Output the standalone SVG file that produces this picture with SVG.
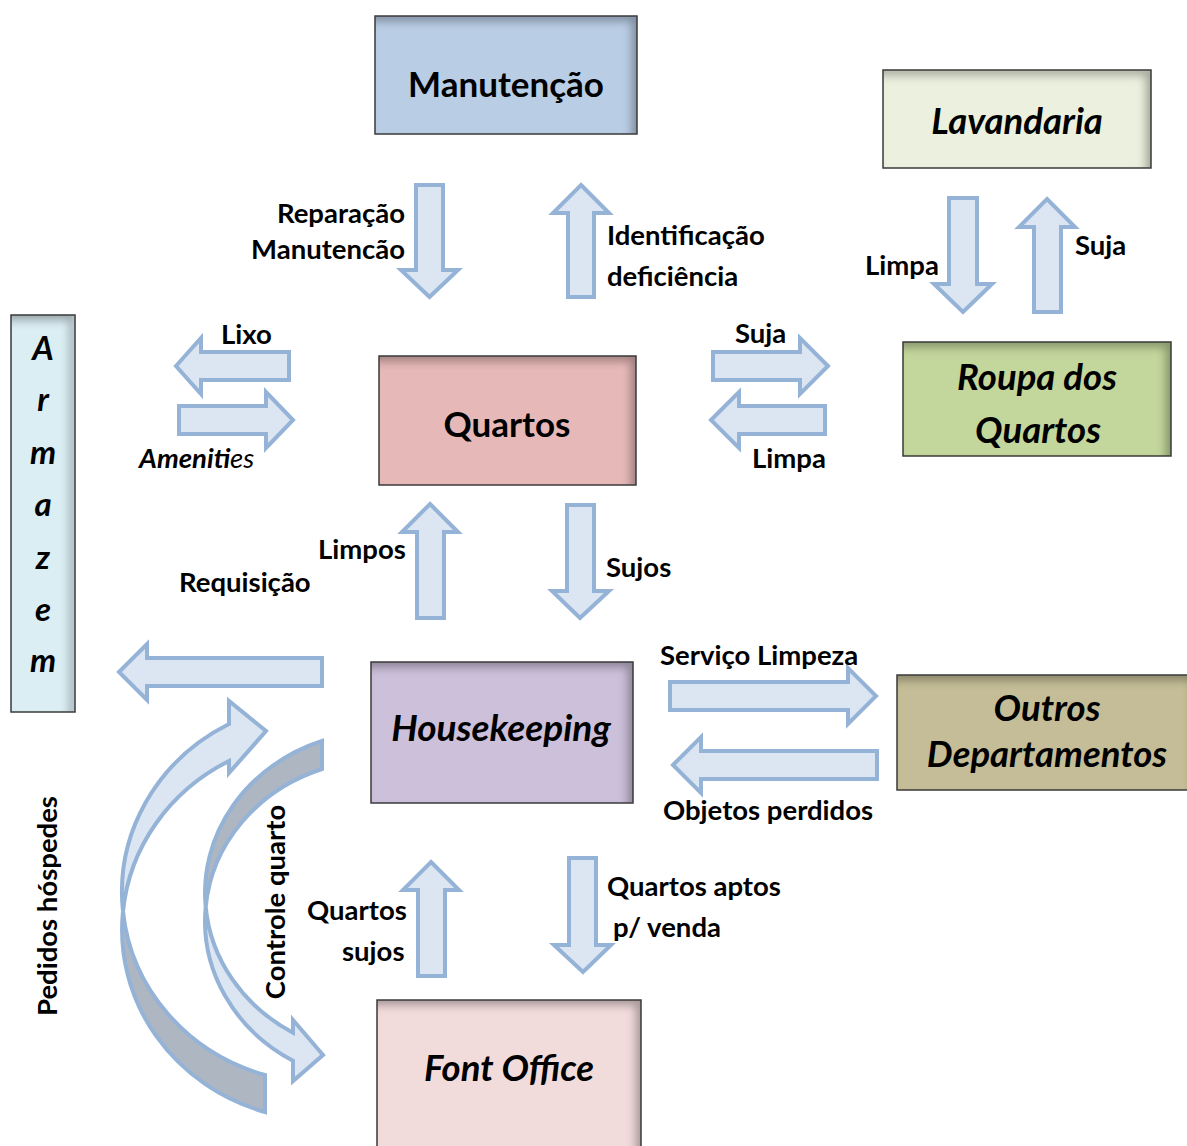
<svg xmlns="http://www.w3.org/2000/svg" width="1187" height="1146" viewBox="0 0 1187 1146">
  <defs>
    <!-- soft inner shadow along the top and right edges of each box -->
    <filter id="inset" x="-10%" y="-10%" width="120%" height="120%">
      <feFlood flood-color="#000" flood-opacity="0.55" result="flood"/>
      <feComposite in="flood" in2="SourceGraphic" operator="out" result="outside"/>
      <feOffset in="outside" dx="-6" dy="6" result="shifted"/>
      <feGaussianBlur in="shifted" stdDeviation="4" result="blurred"/>
      <feComposite in="blurred" in2="SourceGraphic" operator="in" result="inner"/>
      <feMerge>
        <feMergeNode in="SourceGraphic"/>
        <feMergeNode in="inner"/>
      </feMerge>
    </filter>
  </defs>
  <style>
    .box { stroke: none; filter: url(#inset); }
    .edge { fill: none; stroke: #3a3a3a; stroke-width: 1.5; }
    .title { font-family: Lato, "Open Sans", sans-serif; font-weight: bold; fill: #000; text-anchor: middle; }
    .it { font-style: italic; }
    .lbl { font-family: Lato, "Open Sans", sans-serif; font-weight: bold; font-size: 27.5px; fill: #000; }
    .thin { font-weight: normal; }
    .arrow { fill: #dce6f2; stroke: #95b3d7; stroke-width: 4; stroke-linejoin: miter; }
    .back { fill: #adb6c1; stroke: #95b3d7; stroke-width: 4; }
  </style>
  <rect width="1187" height="1146" fill="#fff"/>

  <!-- connectors -->
  <g id="connectors">
    <polygon class="arrow" points="416,185 443,185 443,270 458,270 429.5,297 401,270 416,270"/>
    <polygon class="arrow" points="581,185 609,213 594,213 594,297 568,297 568,213 553,213"/>
    <polygon class="arrow" points="949,198 977,198 977,284 992,284 963,312 934,284 949,284"/>
    <polygon class="arrow" points="1047,199 1075,227 1061,227 1061,312 1034,312 1034,227 1019,227"/>
    <polygon class="arrow" points="176,366 201,338 201,352 289,352 289,380 201,380 201,394"/>
    <polygon class="arrow" points="179,406 266,406 266,392 293,420 266,448 266,434 179,434"/>
    <polygon class="arrow" points="713,352 800,352 800,338 828,366 800,394 800,380 713,380"/>
    <polygon class="arrow" points="711,420 739,392 739,406 825,406 825,434 739,434 739,448"/>
    <polygon class="arrow" points="430,504 458,532 444,532 444,618 417,618 417,532 402,532"/>
    <polygon class="arrow" points="567,505 594,505 594,591 609,591 580,618 552,591 567,591"/>
    <polygon class="arrow" points="119,672 147,644 147,658 322,658 322,686 147,686 147,700"/>
    <polygon class="arrow" points="670,682 848,682 848,668 876,696 848,724 848,710 670,710"/>
    <polygon class="arrow" points="673,765 701,737 701,751 877,751 877,779 701,779 701,793"/>
    <polygon class="arrow" points="431,862 459,890 445,890 445,976 418,976 418,890 403,890"/>
    <polygon class="arrow" points="569,858 596,858 596,945 611,945 583,972 554,945 569,945"/>

    <!-- curved arrow: guest requests -->
    <path class="back" d="M 123 911.5 A 200 190 0 0 0 265 1112 L 265 1075 A 200 190 0 0 1 123 911.5 Z"/>
    <path class="arrow" d="M 123 911.5 A 200 190 0 0 1 229 724 L 229 701 L 266 731 L 229 773 L 229 761 A 200 190 0 0 0 123 911.5 Z"/>
    <!-- curved arrow: room control -->
    <path class="back" d="M 205.7 907 A 175 161 0 0 1 322 741 L 322 769 A 175 161 0 0 0 205.7 907 Z"/>
    <path class="arrow" d="M 205.7 907 A 175 161 0 0 0 293 1060.7 L 293 1081 L 323 1055 L 293 1020 L 293 1032.7 A 175 161 0 0 1 205.7 907 Z"/>

    <!-- labels -->
    <text class="lbl" x="405" y="223" text-anchor="end">Reparação</text>
    <text class="lbl" x="405" y="259" text-anchor="end">Manutencão</text>
    <text class="lbl" x="607" y="245">Identificação</text>
    <text class="lbl" x="607" y="286">deficiência</text>
    <text class="lbl" x="865" y="275">Limpa</text>
    <text class="lbl" x="1075" y="255">Suja</text>
    <text class="lbl" x="221" y="344">Lixo</text>
    <text class="lbl it" x="139" y="468">Ameniti</text>
    <text class="lbl it thin" x="230" y="468">es</text>
    <text class="lbl" x="735" y="343">Suja</text>
    <text class="lbl" x="752" y="468">Limpa</text>
    <text class="lbl" x="318" y="559">Limpos</text>
    <text class="lbl" x="179" y="592">Requisição</text>
    <text class="lbl" x="606" y="577">Sujos</text>
    <text class="lbl" x="660" y="665">Serviço Limpeza</text>
    <text class="lbl" x="663" y="820">Objetos perdidos</text>
    <text class="lbl" x="307" y="920">Quartos</text>
    <text class="lbl" x="342" y="961">sujos</text>
    <text class="lbl" x="607" y="896">Quartos aptos</text>
    <text class="lbl" x="613" y="937">p/ venda</text>
    <text class="lbl" transform="translate(57,906) rotate(-90)" text-anchor="middle">Pedidos hóspedes</text>
    <text class="lbl" transform="translate(285,902) rotate(-90)" text-anchor="middle">Controle quarto</text>
  </g>

  <!-- nodes -->
  <g id="manutencao">
    <rect class="box" x="375" y="16" width="262" height="118" fill="#b9cde5"/>
    <rect class="edge" x="375" y="16" width="262" height="118"/>
    <text class="title" x="506" y="96.5" font-size="35">Manutenção</text>
  </g>
  <g id="lavandaria">
    <rect class="box" x="883" y="70" width="268" height="98" fill="#ebf1de"/>
    <rect class="edge" x="883" y="70" width="268" height="98"/>
    <text class="title it" x="1017" y="134" font-size="36.5">Lavandaria</text>
  </g>
  <g id="roupa-quartos">
    <rect class="box" x="903" y="342" width="268" height="114" fill="#c3d69b"/>
    <rect class="edge" x="903" y="342" width="268" height="114"/>
    <text class="title it" x="1037" y="390" font-size="36.5">Roupa dos</text>
    <text class="title it" x="1038" y="443" font-size="36.5">Quartos</text>
  </g>
  <g id="quartos">
    <rect class="box" x="379" y="356" width="257" height="129" fill="#e6b9b8"/>
    <rect class="edge" x="379" y="356" width="257" height="129"/>
    <text class="title" x="507" y="436.5" font-size="35">Quartos</text>
  </g>
  <g id="armazem">
    <rect class="box" x="11" y="315" width="64" height="397" fill="#dbeef4"/>
    <rect class="edge" x="11" y="315" width="64" height="397"/>
    <text class="title it" x="43" y="360" font-size="33">A</text>
    <text class="title it" x="43" y="410.5" font-size="33">r</text>
    <text class="title it" x="43" y="463.5" font-size="33">m</text>
    <text class="title it" x="43" y="515.5" font-size="33">a</text>
    <text class="title it" x="43" y="568.5" font-size="33">z</text>
    <text class="title it" x="43" y="620.5" font-size="33">e</text>
    <text class="title it" x="43" y="671.5" font-size="33">m</text>
  </g>
  <g id="housekeeping">
    <rect class="box" x="371" y="662" width="262" height="141" fill="#ccc0da"/>
    <rect class="edge" x="371" y="662" width="262" height="141"/>
    <text class="title it" x="501" y="741" font-size="37">Housekeeping</text>
  </g>
  <g id="outros-departamentos">
    <rect class="box" x="897" y="675" width="300" height="115" fill="#c4bd97"/>
    <rect class="edge" x="897" y="675" width="300" height="115"/>
    <text class="title it" x="1047" y="721" font-size="36.5">Outros</text>
    <text class="title it" x="1047" y="767" font-size="36.5">Departamentos</text>
  </g>
  <g id="font-office">
    <rect class="box" x="377" y="1000" width="264" height="160" fill="#f2dcdb"/>
    <rect class="edge" x="377" y="1000" width="264" height="160"/>
    <text class="title it" x="509" y="1081" font-size="36.5">Font Office</text>
  </g>
</svg>
